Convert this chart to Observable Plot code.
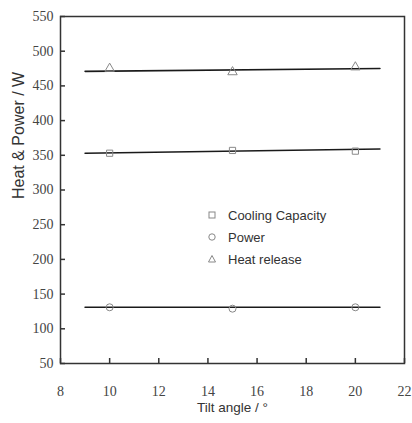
<!DOCTYPE html>
<html><head><meta charset="utf-8">
<script src="https://cdn.jsdelivr.net/npm/d3@7"></script>
<script src="https://cdn.jsdelivr.net/npm/@observablehq/plot@0.6"></script>
<style>
body{margin:0;background:#fff;}
#wrap{position:relative;width:412px;height:423px;}
#legend{position:absolute;left:206px;top:204px;font:13px "Liberation Sans",Arial,sans-serif;color:#333;}
#legend div{height:22px;display:flex;align-items:center;}
#legend svg{margin-right:10px;}
</style></head>
<body><div id="wrap"><div id="legend"></div></div>
<script>
const angles = [10, 15, 20];
const cooling = [353, 357, 356];
const power = [131, 129, 131];
const heat = [475, 470, 477];
const fitX = [9, 21];
const coolingFit = [353, 359];
const powerFit = [131, 131];
const heatFit = [471, 475];
const xTicks = [8, 10, 12, 14, 16, 18, 20, 22];
const yTicks = [50, 100, 150, 200, 250, 300, 350, 400, 450, 500, 550];
const seriesNames = ["Cooling Capacity", "Power", "Heat release"];
const symbols = ["square", "circle", "triangle"];

const series = [cooling, power, heat];
const fits = [coolingFit, powerFit, heatFit];
const pts = series.flatMap((vals, s) => vals.map((v, i) => ({x: angles[i], y: v, s})));
const fitLines = fits.map(f => fitX.map((x, i) => ({x, y: f[i]})));

const sans = "'Liberation Sans', Arial, sans-serif";
const serif = "'Liberation Serif', 'Times New Roman', 'DejaVu Serif', 'Noto Serif', serif";
const plot = Plot.plot({
  width: 412, height: 423,
  marginLeft: 60, marginRight: 8, marginTop: 16, marginBottom: 60,
  style: {background: "#fff", overflow: "visible"},
  x: {domain: [8, 22]},
  y: {domain: [50, 550]},
  marks: [
    Plot.axisX({ticks: xTicks, tickSize: -5, tickPadding: 28, stroke: "#333", strokeWidth: 1.5, label: null, fontFamily: serif, fontSize: 14, fill: "#444"}),
    Plot.axisY({ticks: yTicks, tickSize: -5, tickPadding: 12, stroke: "#333", strokeWidth: 1.5, label: null, fontFamily: serif, fontSize: 14, fill: "#444"}),
    ...fitLines.map(l => Plot.line(l, {x: "x", y: "y", stroke: "#1a1a1a", strokeWidth: 1.6})),
    ...symbols.map((sym, s) => Plot.dot(pts.filter(d => d.s === s), {x: "x", y: "y", symbol: sym, r: 3.5, stroke: "#888", strokeWidth: 1, fill: "none"})),
    Plot.frame({stroke: "#333", strokeWidth: 1.5}),
    Plot.text(["Tilt angle / °"], {frameAnchor: "bottom", dy: 48, fontSize: 13.5, fontFamily: sans, fill: "#333"}),
    Plot.text(["Heat & Power / W"], {frameAnchor: "left", rotate: -90, dx: -42, dy: 9, fontSize: 16, fontFamily: sans, fill: "#333"})
  ]
});
document.getElementById("wrap").prepend(plot);

const shapes = {
  square: '<rect x="3" y="3" width="6" height="6" fill="none" stroke="#888"/>',
  circle: '<circle cx="6" cy="6" r="3.2" fill="none" stroke="#888"/>',
  triangle: '<path d="M6 2.5 L9.5 9 L2.5 9 Z" fill="none" stroke="#888"/>'
};
const legend = document.getElementById("legend");
seriesNames.forEach((name, i) => {
  const row = document.createElement("div");
  row.innerHTML = `<svg width="12" height="12">${shapes[symbols[i]]}</svg><span>${name}</span>`;
  legend.appendChild(row);
});
</script></body></html>
